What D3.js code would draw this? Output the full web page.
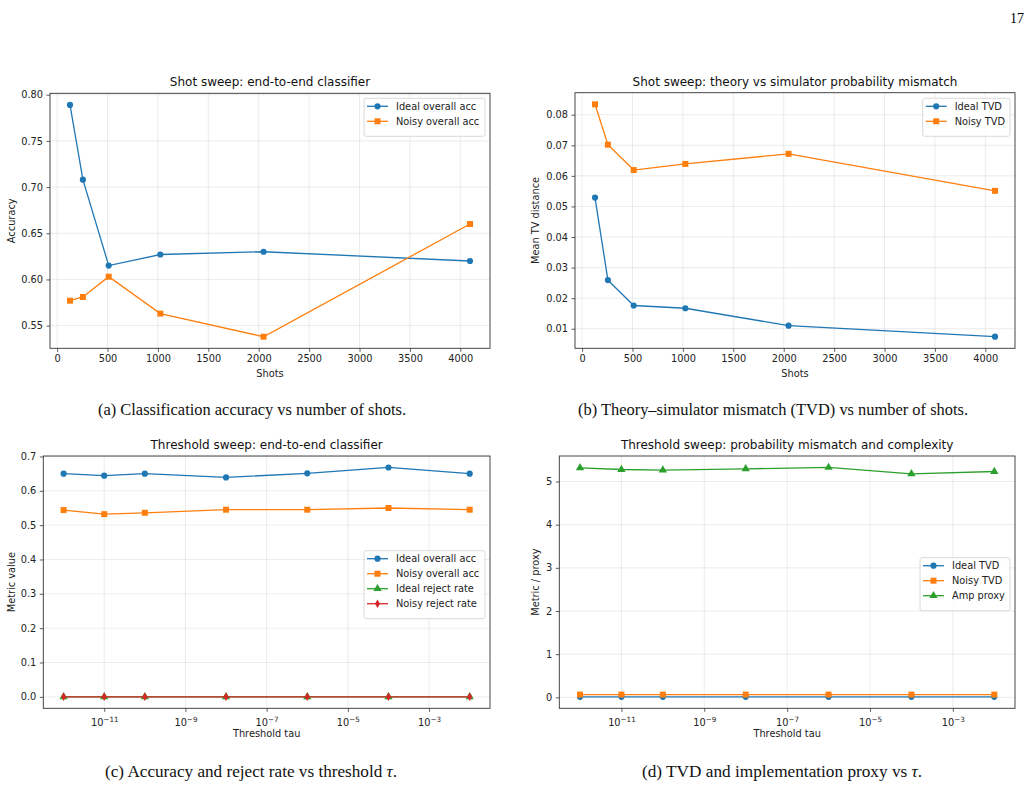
<!DOCTYPE html>
<html>
<head>
<meta charset="utf-8">
<script src="https://cdn.jsdelivr.net/npm/d3@7"></script>
<style>
  body { margin: 0; background: #fff; }
  svg { display: block; }
  .tick text { font-family: "DejaVu Sans", sans-serif; font-size: 9.8px; fill: #222; }
  .tick line { stroke: #333; stroke-width: 0.8; }
</style>
</head>
<body>
<div id="chart"></div>
<script>
// values
const shots = [128, 256, 512, 1024, 2048, 4096];
const idealAcc = [0.789, 0.708, 0.615, 0.627, 0.630, 0.620];
const noisyAcc = [0.577, 0.581, 0.603, 0.563, 0.538, 0.660];
const idealTvd = [0.0529, 0.0259, 0.0176, 0.0167, 0.0110, 0.0074];
const noisyTvd = [0.0834, 0.0702, 0.0619, 0.0639, 0.0672, 0.0551];

const taus = [1e-12, 1e-11, 1e-10, 1e-8, 1e-6, 1e-4, 1e-2];
const tauIdealAcc = [0.650, 0.644, 0.650, 0.639, 0.651, 0.668, 0.650];
const tauNoisyAcc = [0.544, 0.532, 0.536, 0.545, 0.545, 0.550, 0.545];
const tauIdealReject = [0, 0, 0, 0, 0, 0, 0];
const tauNoisyReject = [0, 0, 0, 0, 0, 0, 0];
const tauIdealTvd = [0.012, 0.012, 0.012, 0.012, 0.012, 0.012, 0.012];
const tauNoisyTvd = [0.064, 0.064, 0.064, 0.064, 0.064, 0.064, 0.064];
const ampProxy = [5.317, 5.278, 5.263, 5.294, 5.325, 5.178, 5.232];

const shotTicks = [0, 500, 1000, 1500, 2000, 2500, 3000, 3500, 4000];
const accTicks = [0.55, 0.60, 0.65, 0.70, 0.75, 0.80];
const tvdTicks = [0.01, 0.02, 0.03, 0.04, 0.05, 0.06, 0.07, 0.08];
const tauTicks = [1e-11, 1e-9, 1e-7, 1e-5, 1e-3];
const metricTicks = [0, 0.1, 0.2, 0.3, 0.4, 0.5, 0.6, 0.7];
const proxyTicks = [0, 1, 2, 3, 4, 5];

const captions = [
  "(a) Classification accuracy vs number of shots.",
  "(b) Theory\u2013simulator mismatch (TVD) vs number of shots.",
  "(c) Accuracy and reject rate vs threshold ",
  "(d) TVD and implementation proxy vs "
];

const blue = "#1f77b4", orange = "#ff7f0e", green = "#2ca02c", red = "#d62728";
const font = '"DejaVu Sans", sans-serif';

const W = 1031, H = 788;
const svg = d3.select('#chart').append('svg')
  .attr('width', W).attr('height', H);

// page number
svg.append('text')
  .attr('x', 1024).attr('y', 23)
  .attr('text-anchor', 'end')
  .style('font-family', '"Liberation Serif", serif')
  .style('font-size', '14px')
  .text('17');

// thin diamond like matplotlib 'd'
const thinDiamond = {
  draw(ctx, size) {
    const h = Math.sqrt(size) * 0.75, w = h * 0.6;
    ctx.moveTo(0, -h); ctx.lineTo(w, 0); ctx.lineTo(0, h); ctx.lineTo(-w, 0); ctx.closePath();
  }
};
const markers = {
  circle: d3.symbol(d3.symbolCircle, 30)(),
  square: d3.symbol(d3.symbolSquare, 36)(),
  triangle: d3.symbol(d3.symbolTriangle, 30)(),
  diamond: d3.symbol(thinDiamond, 32)()
};

function padded(lo, hi, log) {
  if (log) {
    const a = Math.log10(lo), b = Math.log10(hi), m = (b - a) * 0.05;
    return [Math.pow(10, a - m), Math.pow(10, b + m)];
  }
  const m = (hi - lo) * 0.05;
  return [lo - m, hi + m];
}

function superscriptLabel(sel) {
  sel.each(function(d) {
    const t = d3.select(this);
    t.text(null);
    t.append('tspan').text('10');
    t.append('tspan')
      .attr('dy', '-0.45em')
      .style('font-size', '7.2px')
      .text('\u2212' + Math.abs(Math.round(Math.log10(d))));
  });
}

function drawPanel(p) {
  const g = svg.append('g');
  const allY = p.series.flatMap(s => s.values);
  const x = p.log
    ? d3.scaleLog().domain(padded(d3.min(p.xs), d3.max(p.xs), true)).range([p.left, p.right])
    : d3.scaleLinear().domain(padded(d3.min(p.xs), d3.max(p.xs))).range([p.left, p.right]);
  const y = d3.scaleLinear().domain(padded(d3.min(allY), d3.max(allY))).range([p.bottom, p.top]);

  // grid
  g.append('g').selectAll('line').data(p.xTicks).join('line')
    .attr('x1', d => x(d)).attr('x2', d => x(d))
    .attr('y1', p.top).attr('y2', p.bottom)
    .attr('stroke', '#b0b0b0').attr('stroke-opacity', 0.3).attr('stroke-width', 0.8);
  g.append('g').selectAll('line').data(p.yTicks).join('line')
    .attr('x1', p.left).attr('x2', p.right)
    .attr('y1', d => y(d)).attr('y2', d => y(d))
    .attr('stroke', '#b0b0b0').attr('stroke-opacity', 0.3).attr('stroke-width', 0.8);

  // axes
  const xa = g.append('g')
    .attr('transform', 'translate(0,' + p.bottom + ')')
    .call(d3.axisBottom(x).tickValues(p.xTicks).tickSize(3.5).tickPadding(3.5)
      .tickFormat(p.log ? (d => d) : d3.format('d')));
  xa.select('.domain').remove();
  if (p.log) xa.selectAll('.tick text').attr('dy', '1.05em').call(superscriptLabel);

  const ya = g.append('g')
    .attr('transform', 'translate(' + p.left + ',0)')
    .call(d3.axisLeft(y).tickValues(p.yTicks).tickSize(3.5).tickPadding(3.5)
      .tickFormat(d3.format(p.yFormat)));
  ya.select('.domain').remove();

  // lines and markers
  p.series.forEach(s => {
    const pts = p.xs.map((v, i) => [v, s.values[i]]);
    g.append('path')
      .datum(pts)
      .attr('fill', 'none')
      .attr('stroke', s.color)
      .attr('stroke-width', 1.3)
      .attr('d', d3.line().x(d => x(d[0])).y(d => y(d[1])));
    g.append('g').selectAll('path').data(pts).join('path')
      .attr('transform', d => 'translate(' + x(d[0]) + ',' + y(d[1]) + ')')
      .attr('d', markers[s.marker])
      .attr('fill', s.color);
  });

  // frame
  g.append('rect')
    .attr('x', p.left).attr('y', p.top)
    .attr('width', p.right - p.left).attr('height', p.bottom - p.top)
    .attr('fill', 'none').attr('stroke', '#333').attr('stroke-width', 0.9);

  // title and labels
  g.append('text')
    .attr('x', (p.left + p.right) / 2).attr('y', p.top - 7)
    .attr('text-anchor', 'middle')
    .style('font-family', font).style('font-size', '12px').style('fill', '#111')
    .text(p.title);
  g.append('text')
    .attr('x', (p.left + p.right) / 2).attr('y', p.bottom + 29)
    .attr('text-anchor', 'middle')
    .style('font-family', font).style('font-size', '9.8px').style('fill', '#222')
    .text(p.xLabel);
  g.append('text')
    .attr('transform', 'translate(' + p.yLabelX + ',' + (p.top + p.bottom) / 2 + ') rotate(-90)')
    .attr('text-anchor', 'middle')
    .style('font-family', font).style('font-size', '9.8px').style('fill', '#222')
    .text(p.yLabel);

  // legend
  const lg = g.append('g').attr('transform', 'translate(' + p.legend[0] + ',' + p.legend[1] + ')');
  lg.append('rect')
    .attr('width', p.legend[2]).attr('height', 8 + p.series.length * 15)
    .attr('rx', 2)
    .attr('fill', '#fff').attr('fill-opacity', 0.8)
    .attr('stroke', '#d0d0d0').attr('stroke-width', 0.8);
  p.series.forEach((s, i) => {
    const yy = 8 + i * 15;
    lg.append('line')
      .attr('x1', 3).attr('x2', 24).attr('y1', yy).attr('y2', yy)
      .attr('stroke', s.color).attr('stroke-width', 1.3);
    lg.append('path')
      .attr('transform', 'translate(13.5,' + yy + ')')
      .attr('d', markers[s.marker]).attr('fill', s.color);
    lg.append('text')
      .attr('x', 32).attr('y', yy + 3.5)
      .style('font-family', font).style('font-size', '9.8px').style('fill', '#222')
      .text(s.name);
  });
}

drawPanel({
  left: 50, right: 490, top: 93.3, bottom: 348.3,
  xs: shots, xTicks: shotTicks, yTicks: accTicks, yFormat: '.2f',
  title: 'Shot sweep: end-to-end classifier', xLabel: 'Shots', yLabel: 'Accuracy', yLabelX: 15,
  legend: [364, 98.3, 121],
  series: [
    { name: 'Ideal overall acc', values: idealAcc, color: blue, marker: 'circle' },
    { name: 'Noisy overall acc', values: noisyAcc, color: orange, marker: 'square' }
  ]
});

drawPanel({
  left: 575, right: 1015, top: 92.7, bottom: 348.3,
  xs: shots, xTicks: shotTicks, yTicks: tvdTicks, yFormat: '.2f',
  title: 'Shot sweep: theory vs simulator probability mismatch', xLabel: 'Shots', yLabel: 'Mean TV distance', yLabelX: 539,
  legend: [922.7, 98.3, 87.3],
  series: [
    { name: 'Ideal TVD', values: idealTvd, color: blue, marker: 'circle' },
    { name: 'Noisy TVD', values: noisyTvd, color: orange, marker: 'square' }
  ]
});

drawPanel({
  left: 43.3, right: 490, top: 456, bottom: 708.3, log: true,
  xs: taus, xTicks: tauTicks, yTicks: metricTicks, yFormat: '.1f',
  title: 'Threshold sweep: end-to-end classifier', xLabel: 'Threshold tau', yLabel: 'Metric value', yLabelX: 15,
  legend: [364, 550.7, 121],
  series: [
    { name: 'Ideal overall acc', values: tauIdealAcc, color: blue, marker: 'circle' },
    { name: 'Noisy overall acc', values: tauNoisyAcc, color: orange, marker: 'square' },
    { name: 'Ideal reject rate', values: tauIdealReject, color: green, marker: 'triangle' },
    { name: 'Noisy reject rate', values: tauNoisyReject, color: red, marker: 'diamond' }
  ]
});

drawPanel({
  left: 559.3, right: 1015, top: 456, bottom: 708.3, log: true,
  xs: taus, xTicks: tauTicks, yTicks: proxyTicks, yFormat: 'd',
  title: 'Threshold sweep: probability mismatch and complexity', xLabel: 'Threshold tau', yLabel: 'Metric / proxy', yLabelX: 539,
  legend: [920, 557.7, 90],
  series: [
    { name: 'Ideal TVD', values: tauIdealTvd, color: blue, marker: 'circle' },
    { name: 'Noisy TVD', values: tauNoisyTvd, color: orange, marker: 'square' },
    { name: 'Amp proxy', values: ampProxy, color: green, marker: 'triangle' }
  ]
});

// captions (Times-like, slightly condensed as in the reference)
const capPos = [[98, 415, 308], [578, 415, 390], [105, 777, 292], [642, 777, 280]];
captions.forEach((c, i) => {
  const t = svg.append('text')
    .attr('x', capPos[i][0]).attr('y', capPos[i][1])
    .attr('textLength', capPos[i][2])
    .attr('lengthAdjust', 'spacingAndGlyphs')
    .style('font-family', '"Liberation Serif", "Times New Roman", serif')
    .style('font-size', '16.5px')
    .style('fill', '#111')
    .text(c);
  if (i >= 2) {
    t.append('tspan').style('font-style', 'italic').text('\u03c4');
    t.append('tspan').text('.');
  }
});
</script>
</body>
</html>
